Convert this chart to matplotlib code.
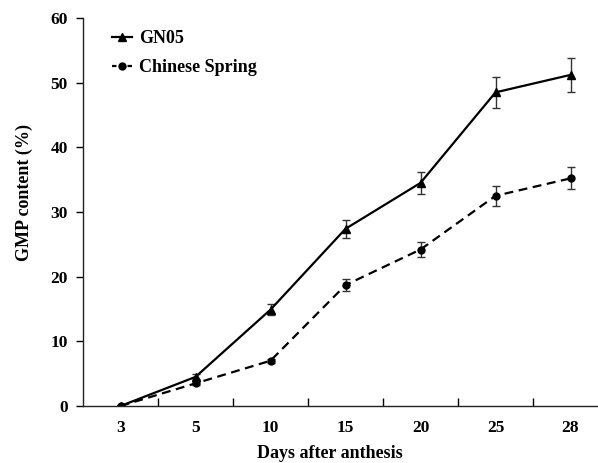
import matplotlib.pyplot as plt
from matplotlib.lines import Line2D
import numpy as np

plt.rcParams['font.family'] = ['Liberation Serif', 'DejaVu Serif']
plt.rcParams['font.weight'] = 'bold'

days = ['3', '5', '10', '15', '20', '25', '28']
gn05 = [0, 4.5, 14.9, 27.4, 34.5, 48.5, 51.2]
gn05_err = [0.2, 0.4, 0.8, 1.4, 1.7, 2.4, 2.6]
cs = [0, 3.5, 7.0, 18.7, 24.2, 32.5, 35.2]
cs_err = [0.2, 0.3, 0.3, 0.9, 1.1, 1.5, 1.7]

fig = plt.figure(figsize=(5.98, 4.63), dpi=100)
ax = fig.add_axes([83 / 598, 1 - 406 / 463, 525 / 598, 388 / 463])

dash = (0, (4, 2.5))
x = np.arange(len(days))
ax.errorbar(x, gn05, yerr=gn05_err, color='black', lw=1.6, marker='^', ms=6,
            ecolor='#333333', elinewidth=1.0, capsize=3, capthick=1.0)
ax.errorbar(x, cs, yerr=cs_err, color='black', lw=1.6, ls=dash,
            marker='o', ms=5, ecolor='#333333', elinewidth=1.0, capsize=3,
            capthick=1.0)

ax.set_xlim(-0.5, len(days) - 0.5)
ax.set_ylim(0, 60)
ax.set_yticks(range(0, 61, 10))
ax.set_xticks(x)
ax.set_xticklabels(days)
ax.set_xticks(x[:-1] + 0.5, minor=True)

ax.tick_params(axis='y', direction='out', length=5, width=1, labelsize=12.5, pad=6)
ax.tick_params(axis='x', which='major', length=0, labelsize=12.5, pad=10)
ax.tick_params(axis='x', which='minor', direction='in', length=6, width=1)

for side in ['top', 'right']:
    ax.spines[side].set_visible(False)
for side in ['left', 'bottom']:
    ax.spines[side].set_linewidth(1.0)
    ax.spines[side].set_color('#222222')

ax.set_xlabel('Days after anthesis', fontsize=13, fontweight='bold')
ax.xaxis.set_label_coords(247 / 525, -0.1)
ax.set_ylabel('GMP content (%)', fontsize=13, fontweight='bold')
ax.yaxis.set_label_coords(-50 / 525, 0.55)

handles = [
    Line2D([], [], color='black', lw=1.6, marker='^', ms=6),
    Line2D([], [], color='black', lw=1.6, ls=(0, (2, 1.5)), marker='o', ms=5),
]
ax.legend(handles, ['GN05', 'Chinese Spring'], loc='upper left',
          bbox_to_anchor=(0.025, 1.01), frameon=False, fontsize=13,
          handlelength=1.1, handletextpad=0.4, labelspacing=0.65)

fig.savefig('out.png', dpi=100, facecolor='white')
